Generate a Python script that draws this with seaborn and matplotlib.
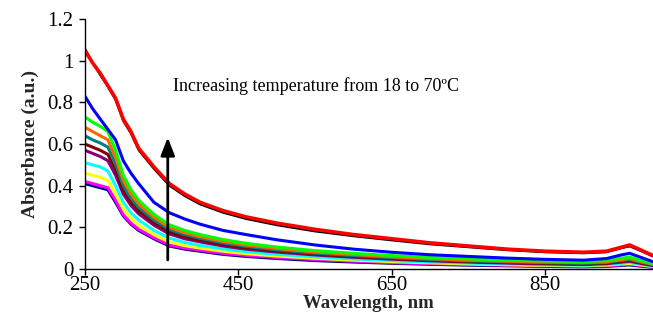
import matplotlib
matplotlib.use("Agg")
import matplotlib.pyplot as plt
import seaborn as sns
import pandas as pd

wavelength = [250, 260, 270, 280, 290, 300, 310, 320, 340, 360, 380, 400, 430, 460,
              500, 550, 600, 650, 700, 750, 800, 850, 900, 930, 950, 960, 975, 990]

navy    = [0.41, 0.40, 0.39, 0.38, 0.32, 0.255, 0.215, 0.185, 0.145, 0.11, 0.095, 0.085, 0.07, 0.06,
           0.05, 0.04, 0.033, 0.027, 0.022, 0.018, 0.015, 0.012, 0.01, 0.012, 0.017, 0.019, 0.013, 0.008]
magenta = [0.42, 0.41, 0.40, 0.39, 0.33, 0.26, 0.22, 0.19, 0.15, 0.115, 0.10, 0.09, 0.075, 0.065,
           0.055, 0.045, 0.037, 0.03, 0.025, 0.021, 0.018, 0.015, 0.013, 0.015, 0.02, 0.022, 0.016, 0.01]
yellow  = [0.46, 0.45, 0.44, 0.425, 0.36, 0.29, 0.245, 0.21, 0.165, 0.13, 0.112, 0.10, 0.085, 0.073,
           0.062, 0.051, 0.042, 0.035, 0.029, 0.024, 0.02, 0.017, 0.015, 0.018, 0.024, 0.026, 0.019, 0.012]
cyan    = [0.51, 0.50, 0.49, 0.47, 0.40, 0.32, 0.27, 0.235, 0.185, 0.148, 0.127, 0.113, 0.096, 0.083,
           0.07, 0.058, 0.048, 0.04, 0.033, 0.028, 0.024, 0.02, 0.018, 0.021, 0.028, 0.031, 0.022, 0.014]
purple  = [0.57, 0.555, 0.54, 0.52, 0.45, 0.36, 0.305, 0.265, 0.21, 0.168, 0.145, 0.13, 0.11, 0.095,
           0.081, 0.067, 0.056, 0.047, 0.039, 0.033, 0.028, 0.024, 0.021, 0.025, 0.033, 0.037, 0.026, 0.016]
darkred = [0.60, 0.585, 0.57, 0.55, 0.475, 0.38, 0.32, 0.28, 0.222, 0.178, 0.154, 0.138, 0.117, 0.101,
           0.086, 0.071, 0.06, 0.05, 0.042, 0.036, 0.031, 0.027, 0.024, 0.028, 0.037, 0.041, 0.029, 0.018]
teal    = [0.64, 0.62, 0.605, 0.585, 0.505, 0.40, 0.34, 0.295, 0.235, 0.19, 0.165, 0.147, 0.125, 0.108,
           0.092, 0.076, 0.064, 0.054, 0.045, 0.039, 0.034, 0.03, 0.027, 0.031, 0.041, 0.045, 0.032, 0.02]
orange  = [0.68, 0.66, 0.64, 0.62, 0.535, 0.425, 0.36, 0.312, 0.248, 0.20, 0.174, 0.155, 0.132, 0.115,
           0.098, 0.081, 0.069, 0.058, 0.049, 0.042, 0.037, 0.033, 0.03, 0.034, 0.045, 0.05, 0.035, 0.022]
green   = [0.73, 0.705, 0.685, 0.66, 0.57, 0.45, 0.38, 0.33, 0.262, 0.212, 0.185, 0.165, 0.141, 0.123,
           0.105, 0.088, 0.075, 0.064, 0.055, 0.048, 0.042, 0.038, 0.035, 0.04, 0.052, 0.057, 0.04, 0.026]
blue    = [0.83, 0.77, 0.72, 0.67, 0.62, 0.52, 0.46, 0.41, 0.32, 0.27, 0.24, 0.215, 0.185, 0.165,
           0.14, 0.115, 0.095, 0.08, 0.068, 0.06, 0.052, 0.046, 0.042, 0.05, 0.068, 0.075, 0.055, 0.035]
black   = [1.06, 0.99, 0.93, 0.875, 0.81, 0.71, 0.65, 0.57, 0.48, 0.40, 0.35, 0.31, 0.27, 0.24,
           0.21, 0.18, 0.157, 0.137, 0.118, 0.104, 0.09, 0.08, 0.075, 0.08, 0.1, 0.108, 0.085, 0.06]
red     = [1.05, 0.99, 0.94, 0.88, 0.82, 0.72, 0.66, 0.58, 0.49, 0.41, 0.36, 0.32, 0.28, 0.25,
           0.22, 0.19, 0.165, 0.145, 0.125, 0.11, 0.095, 0.085, 0.08, 0.085, 0.105, 0.115, 0.09, 0.065]

series = {
    "navy": navy, "magenta": magenta, "yellow": yellow, "cyan": cyan, "purple": purple,
    "darkred": darkred, "teal": teal, "orange": orange, "green": green, "blue": blue,
    "black": black, "red": red,
}
colors = {
    "navy": "#000080", "magenta": "#FF00FF", "yellow": "#FFFF00", "cyan": "#00FFFF",
    "purple": "#800080", "darkred": "#800000", "teal": "#008080", "orange": "#FF6600",
    "green": "#00FF00", "blue": "#0000FF", "black": "#000000", "red": "#FF0000",
}

rows = []
for name, vals in series.items():
    for w, a in zip(wavelength, vals):
        rows.append({"Wavelength": w, "Absorbance": a, "curve": name})
df = pd.DataFrame(rows)

sns.set_theme(style="white")
plt.rcParams["font.family"] = ["Liberation Serif", "DejaVu Serif"]

fig = plt.figure(figsize=(6.53, 3.24), dpi=100)
ax = fig.add_axes([0.130, 0.170, 0.8695, 0.771])

for name in series:
    sub = df[df.curve == name]
    lw = 2.6 if name == "red" else (1.4 if name == "black" else 2.2)
    sns.lineplot(data=sub, x="Wavelength", y="Absorbance", color=colors[name],
                 linewidth=lw, ax=ax, legend=False, sort=False)

ax.set_xlim(250, 990)
ax.set_ylim(0, 1.2)
ax.set_xticks([250, 450, 650, 850])
ax.set_yticks([0, 0.2, 0.4, 0.6, 0.8, 1.0, 1.2])
ax.set_yticklabels(["0", "0.2", "0.4", "0.6", "0.8", "1", "1.2"])
ax.tick_params(axis="both", labelsize=15, direction="out", length=4.3, width=1,
               colors="black", bottom=True, left=True)
ax.tick_params(axis="x", pad=1)
ax.tick_params(axis="y", pad=4)
for s in ["top", "right"]:
    ax.spines[s].set_visible(False)
for s in ["left", "bottom"]:
    ax.spines[s].set_color("black")
    ax.spines[s].set_linewidth(1)

ax.set_xlabel("Wavelength, nm", fontsize=13.5, fontweight="bold", labelpad=0)
ax.set_ylabel("Absorbance (a.u.)", fontsize=14, fontweight="bold", labelpad=6)

ax.annotate("", xy=(358, 0.645), xytext=(358, 0.03),
            arrowprops=dict(arrowstyle="-|>,head_length=0.9,head_width=0.35",
                            color="black", lw=2))
ax.text(365, 0.88, "Increasing temperature from 18 to 70ºC", fontsize=13,
        ha="left", va="center", color="black")

fig.savefig("out.png", dpi=100)
